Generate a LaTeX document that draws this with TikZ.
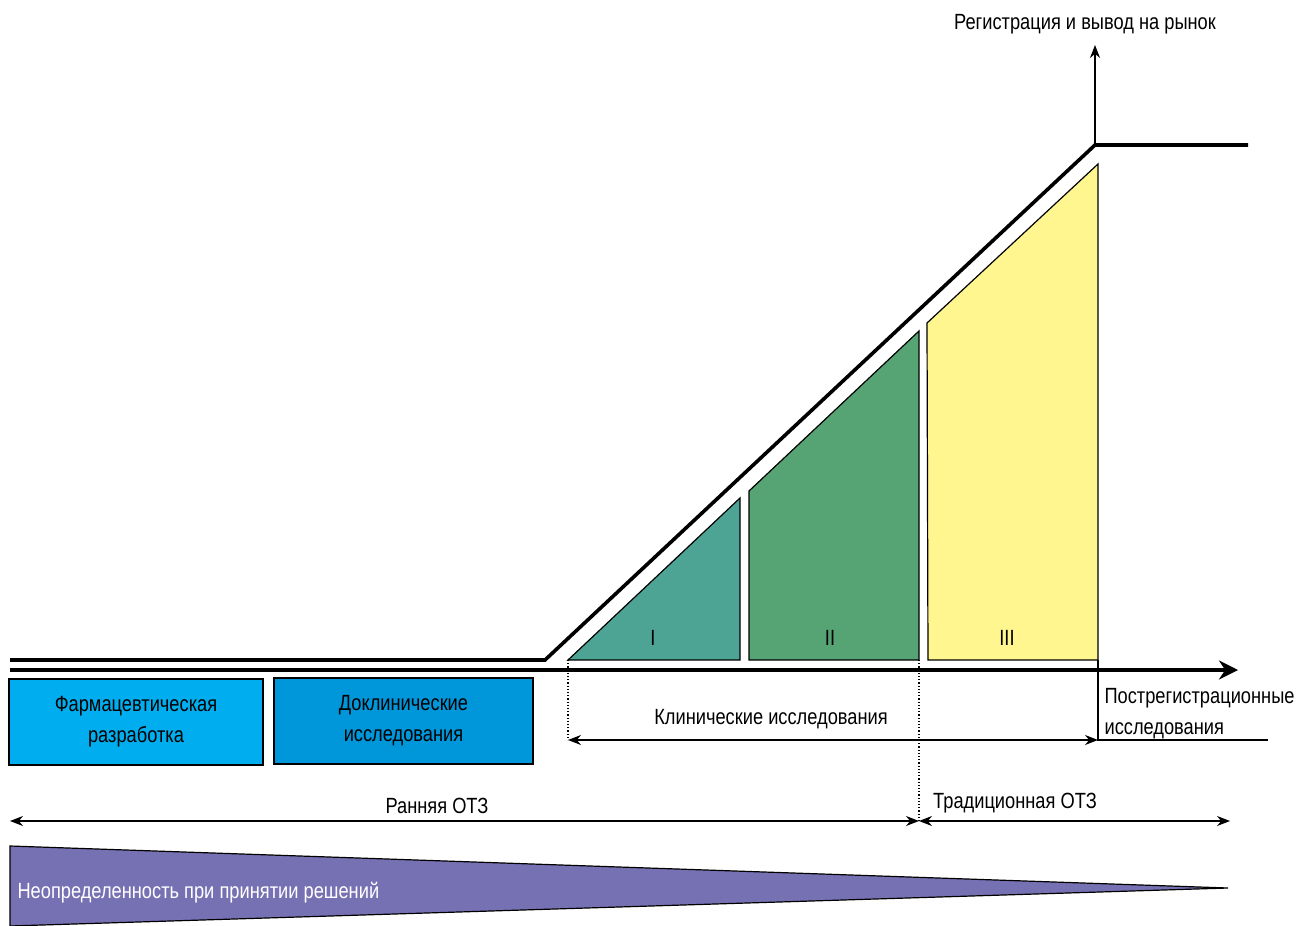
\documentclass[tikz,border=0pt]{standalone}
\usepackage{fontspec}
\setmainfont{Liberation Sans}[FakeStretch=0.83]
\usetikzlibrary{arrows.meta,positioning}

\definecolor{pharmblue}{HTML}{00AEEF}
\definecolor{preclinblue}{HTML}{0096DA}
\definecolor{phaseone}{HTML}{4DA394}
\definecolor{phasetwo}{HTML}{56A374}
\definecolor{phasethree}{HTML}{FFF68F}
\definecolor{uncertain}{HTML}{7671B3}

\begin{document}
\begin{tikzpicture}[x=1pt,y=-1pt,>={Stealth[length=13pt,width=10pt]},
    font=\fontsize{22}{31}\selectfont,
    fine/.style={line width=1.2pt},
    rail/.style={line width=3.6pt},
    stagebox/.style={draw,fine,minimum height=86pt,align=center,inner sep=0pt},
    phase/.style={draw=black,fine,line join=miter}]
    \useasboundingbox (0,0) rectangle (1299,926);

    % main rails
    \coordinate (railstart) at (10,660);
    \coordinate (bend)      at (545,660);
    \coordinate (reg)       at (1095,145);
    \coordinate (railend)   at (1248,145);
    \coordinate (axisstart) at (10,670);
    \coordinate (axisend)   at (1238,670);
    \coordinate (regtop)    at (1095,45);
    \draw[rail,line join=miter] (railstart) -- (bend) -- (reg) -- (railend);
    \draw[rail,-{Stealth[length=19pt,width=19pt]}] (axisstart) -- (axisend);
    \draw[fine,->] (reg) -- (regtop);
    \node (regtext) at (1085,24) {Регистрация и вывод на рынок};

    % phases
    \coordinate (phaseIa)   at (568,660);
    \coordinate (phaseIIc)  at (919,660);
    \coordinate (phaseIIIc) at (1098,660);
    \fill[phaseone,phase] (phaseIa) -- (740,498) -- (740,660) -- cycle;
    \fill[phasetwo,phase] (749,660) -- (749,491) -- (919,331) -- (phaseIIc) -- cycle;
    \fill[phasethree,phase] (928,660) -- (927,323) -- (1098,164) -- (phaseIIIc) -- cycle;
    \node (one)   at (653,638) {I};
    \node (two)   at (830,638) {II};
    \node (three) at (1007,638) {III};

    % stages below the axis
    \node[stagebox,fill=pharmblue,minimum width=254pt] (pharm) at (136,722)
        {Фармацевтическая\\разработка};
    \node[stagebox,fill=preclinblue,minimum width=259pt] (preclin) at (403.5,721)
        {Доклинические\\исследования};

    \coordinate (clinstart) at (568,740);
    \coordinate (clinend)   at (1098,740);
    \coordinate (postend)   at (1268,740);
    \coordinate (hta)       at (919,821);
    \coordinate (earlystart) at (10,821);
    \coordinate (htaend)    at (1230,821);
    \draw[fine,dotted] (phaseIa) -- (clinstart);
    \draw[fine,dotted] (phaseIIc) -- (hta);
    \draw[fine,<->] (clinstart) -- (clinend);
    \node (clin) at (771,719) {Клинические исследования};
    \draw[fine] (phaseIIIc) -- (clinend) -- (postend);
    \node[align=left,anchor=west] (post) at (1101,714) {Пострегистрационные\\исследования};

    \draw[fine,<->] (earlystart) -- (hta);
    \draw[fine,<->] (hta) -- (htaend);
    \node (early) at (437,806) {Ранняя ОТЗ};
    \node (late)  at (1015,803) {Традиционная ОТЗ};

    % uncertainty wedge
    \coordinate (wedgetop) at (10,846);
    \coordinate (wedgetip) at (1228,888);
    \coordinate (wedgebot) at (10,926);
    \fill[uncertain,draw=black,fine] (wedgetop) -- (wedgetip) -- (wedgebot) -- cycle;
    \node[anchor=west,text=white] (uncert) at (14,893) {Неопределенность при принятии решений};
\end{tikzpicture}
\end{document}
